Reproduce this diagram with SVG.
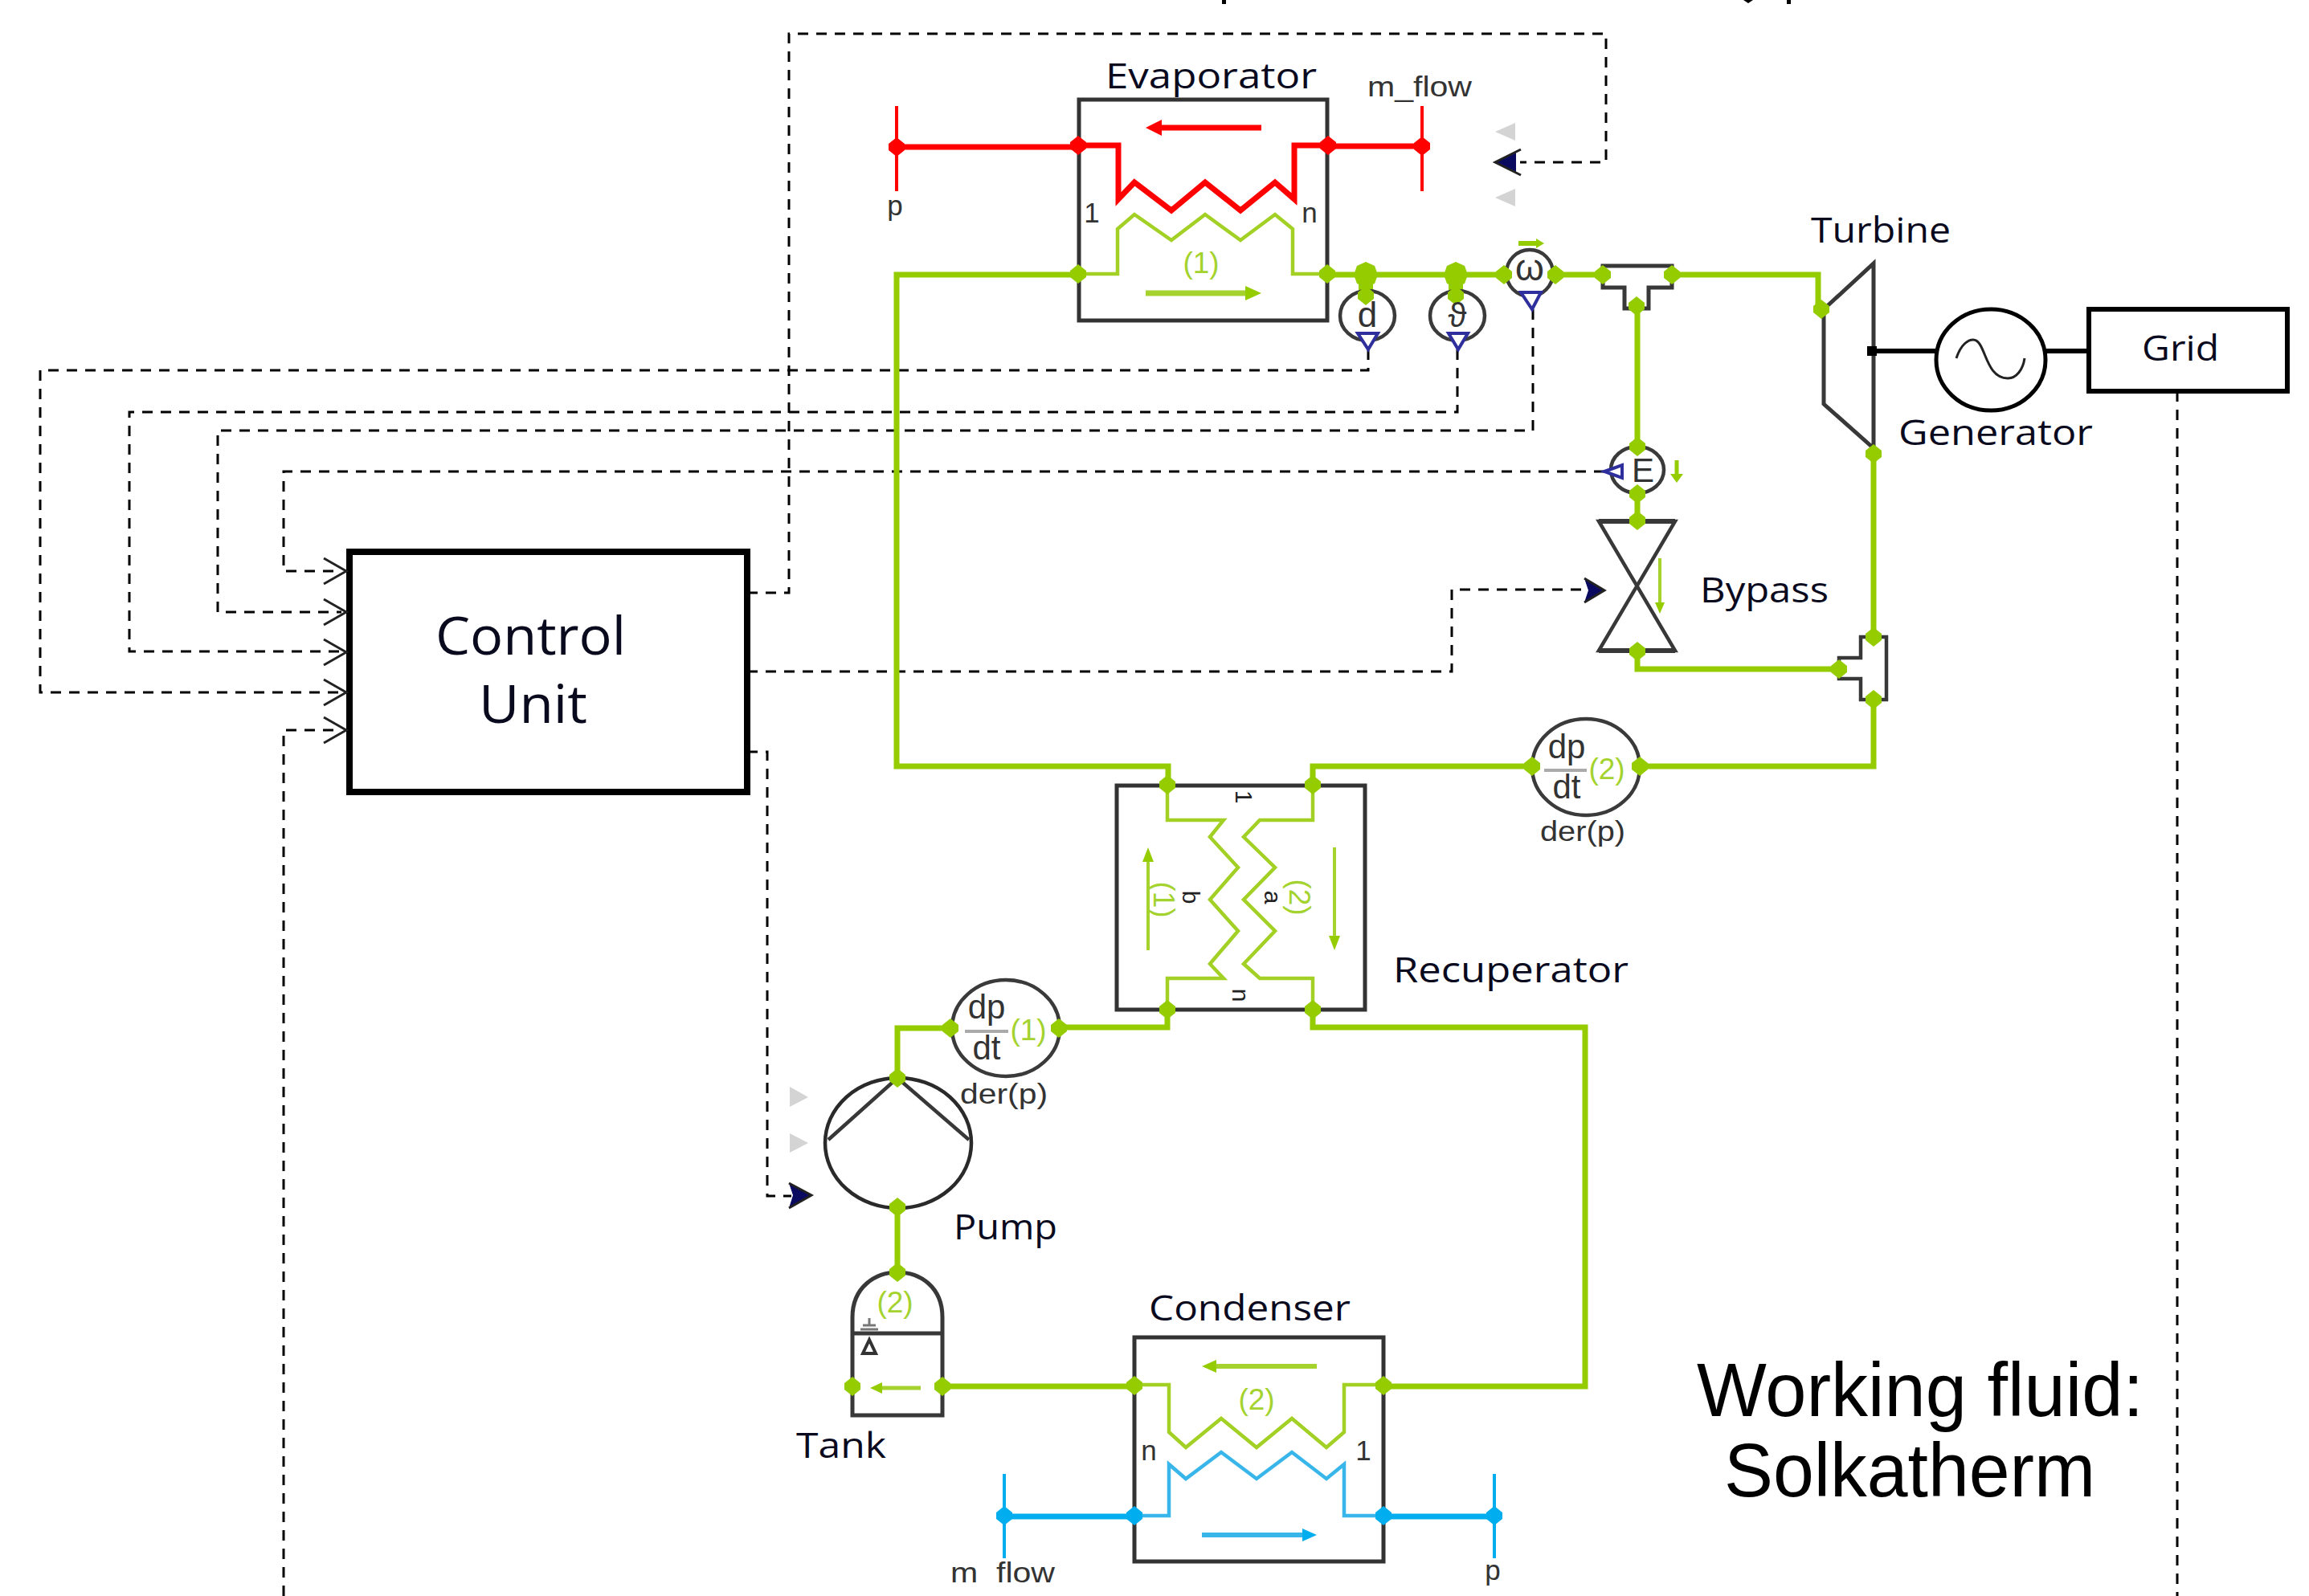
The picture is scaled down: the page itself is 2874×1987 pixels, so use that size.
<svg xmlns="http://www.w3.org/2000/svg" xmlns:xlink="http://www.w3.org/1999/xlink" width="2874" height="1987" viewBox="0 0 2874 1987">
<style>
text{font-family:"Liberation Sans",Arial,sans-serif;fill:#2a2a2a}
.lab{font-family:"Open Sans","Liberation Sans",sans-serif;font-size:43px;fill:#0a0a1e}
.sm{font-size:35px;fill:#333}
.big{font-size:95px;fill:#000}
.gt{font-size:37px;fill:#a4d22e}
.box{fill:#fff;stroke:#333;stroke-width:5}
.sh{fill:none;stroke:#383838;stroke-width:5}
.sens{fill:#fff;stroke:#3a3a3a;stroke-width:4.5}
.tri{fill:#fff;stroke:#2e2e9c;stroke-width:4}
.dash{fill:none;stroke:#000;stroke-width:3;stroke-dasharray:13 10}
.open{fill:none;stroke:#222;stroke-width:3}
.gp{fill:none;stroke:#94cc00;stroke-width:7}
.gi{fill:none;stroke:#a2d024;stroke-width:4.5}
.gthin{fill:none;stroke:#a6d22e;stroke-width:4}
.rp{fill:none;stroke:#ff0000;stroke-width:7}
.bp{fill:none;stroke:#00adee;stroke-width:7}
.bi{fill:none;stroke:#38b6ea;stroke-width:4.5}
.pg{fill:#94cc00}.pr{fill:#ff0000}.pb{fill:#00adee}
.blk{fill:none;stroke:#000}
</style>
<defs>
<polygon id="port" points="0,-12 10,-4 10,4 0,12 -10,4 -10,-4"/>
<polygon id="bigport" points="0,-16 11,-11 15,0 11,11 0,16 -11,11 -15,0 -11,-11"/>
</defs>
<rect width="2874" height="1987" fill="#fff"/>

<g id="title-fragments" fill="#000">
<rect x="1521" y="0" width="5" height="5"/><path d="M2170,0h12l-6,4z"/><rect x="2224" y="0" width="5" height="5"/>
</g>

<g id="control-unit">
<rect x="435" y="687" width="495" height="299" fill="#fff" stroke="#000" stroke-width="8"/>
<text class="lab" x="542" y="815" style="font-size:66px" textLength="237" lengthAdjust="spacingAndGlyphs">Control</text>
<text class="lab" x="596" y="900" style="font-size:66px" textLength="135" lengthAdjust="spacingAndGlyphs">Unit</text>
</g>

<g id="connectors">
<path class="dash" d="M1997,587H353V711H425"/>
<path class="dash" d="M1908,385V536H271V762H425"/>
<path class="dash" d="M1814,435V513H161V811H425"/>
<path class="dash" d="M1703,435V461H50V862H425"/>
<path class="dash" d="M353,1987V909H425"/>
<path class="dash" d="M2710,487V1987"/>
<path class="dash" d="M930,738H982V42H1999V202H1892"/>
<path class="dash" d="M930,836H1807V734H1970"/>
<path class="dash" d="M930,936H955V1489H985"/>
<path class="gp" d="M1343,342H1116V954H1454V977"/>
<path class="gp" d="M1652,342H1995M2081,342H2263V385"/>
<path class="gp" d="M2038,380V556M2038,615V649M2038,811V833H2289"/>
<path class="gp" d="M2332,565V793M2332,871V954H2041M1907,954H1634V977"/>
<path class="gp" d="M1453,1257V1279H1318M1183,1280H1117V1342"/>
<path class="gp" d="M1634,1257V1279H1973V1726H1722"/>
<path class="gp" d="M1117,1503V1584"/>
<path class="gp" d="M1173,1726H1412"/>
<path class="rp" d="M1116,183H1343M1652,182H1770"/>
<path class="bp" d="M1250,1888H1412M1722,1888H1860"/>
</g>

<g id="evaporator">
<rect class="box" x="1343" y="124" width="309" height="275"/>
<path class="rp" d="M1343,181H1392V248L1412,227L1458,262L1500,227L1544,262L1587,227L1611,248V181H1652"/>
<path class="gi" d="M1343,341H1391V285L1412,267L1458,299L1500,267L1544,299L1587,267L1609,285V341H1652"/>
<path d="M1570,159H1440" fill="none" stroke="#ff0000" stroke-width="7"/><polygon points="1426,159 1446,149 1446,169" class="pr"/>
<path d="M1426,365H1555" class="gthin" style="stroke-width:7"/><polygon points="1570,365 1550,356 1550,374" class="pg"/>
<text class="gt" x="1495" y="340" text-anchor="middle">(1)</text>
<text class="sm" x="1359" y="277" text-anchor="middle">1</text>
<text class="sm" x="1630" y="277" text-anchor="middle">n</text>
<text class="lab" x="1376" y="110" textLength="263" lengthAdjust="spacingAndGlyphs">Evaporator</text>
<g class="pr"><use href="#port" x="1342" y="181"/><use href="#port" x="1653" y="181"/></g>
<g class="pg"><use href="#port" x="1342" y="341"/><use href="#port" x="1652" y="341"/></g>
</g>

<g id="hot-source-p">
<path class="pr" d="M1114,132h4v106h-4z"/><use href="#port" x="1116" y="183" class="pr"/>
<text class="sm" x="1114" y="268" text-anchor="middle">p</text>
</g>
<g id="hot-source-m-flow">
<path class="pr" d="M1768,132h4v106h-4z"/><use href="#port" x="1770" y="182" class="pr"/>
<text class="sm" x="1702" y="120" textLength="130" lengthAdjust="spacingAndGlyphs">m_flow</text>
</g>
<g id="mflow-inputs">
<polygon points="1861,164 1886,153 1886,175" fill="#d4d4d4"/>
<polygon points="1861,246 1886,235 1886,257" fill="#d4d4d4"/>
<polygon points="1861,202 1887,190 1887,214" fill="#0a0a60"/>
<path class="open" d="M1893,186L1861,202L1893,218"/>
</g>

<g id="sensor-d">
<path class="gp" d="M1700,342V367" style="stroke-width:18"/>
<ellipse class="sens" cx="1702" cy="393" rx="34" ry="31"/>
<polygon class="tri" points="1690,415 1715,415 1703,435"/>
<use href="#bigport" x="1700" y="342" class="pg"/><use href="#port" x="1700" y="368" class="pg"/>
<text x="1702" y="407" text-anchor="middle" style="font-size:44px;fill:#333">d</text>
</g>
<g id="sensor-theta">
<path class="gp" d="M1812,342V367" style="stroke-width:18"/>
<ellipse class="sens" cx="1814" cy="393" rx="34" ry="31"/>
<polygon class="tri" points="1803,415 1827,415 1815,435"/>
<use href="#bigport" x="1812" y="342" class="pg"/><use href="#port" x="1812" y="368" class="pg"/>
<text x="1814" y="407" text-anchor="middle" style="font-size:42px;fill:#333">ϑ</text>
</g>
<g id="sensor-w">
<ellipse class="sens" cx="1904" cy="340" rx="29" ry="29"/>
<polygon class="tri" points="1893,364 1918,364 1907,385"/>
<use href="#port" x="1872" y="342" class="pg"/><use href="#port" x="1936" y="342" class="pg"/>
<text x="1904" y="349" text-anchor="middle" style="font-size:46px;fill:#333">ω</text>
<path d="M1890,303H1914" style="stroke:#94cc00;stroke-width:6;fill:none"/><polygon points="1922,303 1912,297 1912,309" class="pg"/>
</g>

<g id="splitter-top">
<polygon class="sh" points="1995,331 2081,331 2081,358 2052,358 2052,384 2022,384 2022,358 1995,358" style="fill:#fff"/>
<use href="#port" x="1995" y="342" class="pg"/><use href="#port" x="2081" y="342" class="pg"/><use href="#port" x="2037" y="381" class="pg"/>
</g>

<g id="turbine">
<polygon class="sh" points="2270,385 2332,328 2332,558 2270,503" style="fill:#fff"/>
<use href="#port" x="2267" y="385" class="pg"/><use href="#port" x="2332" y="565" class="pg"/>
<rect x="2324" y="431" width="12" height="12" fill="#000"/>
<text class="lab" x="2254" y="302" textLength="174" lengthAdjust="spacingAndGlyphs">Turbine</text>
</g>
<path id="shaft-line" class="blk" stroke-width="6" d="M2330,437H2409"/>
<path id="grid-line" class="blk" stroke-width="6" d="M2546,437H2600"/>

<g id="generator">
<ellipse cx="2478" cy="448" rx="68" ry="63" fill="#fff" stroke="#000" stroke-width="5"/>
<path d="M2435,446C2441,428 2450,423 2456,423C2472,423 2470,471 2499,471C2510,471 2518,460 2520,446" fill="none" stroke="#222" stroke-width="3"/>
<text class="lab" x="2363" y="554" textLength="242" lengthAdjust="spacingAndGlyphs">Generator</text>
</g>
<g id="grid">
<rect x="2600" y="385" width="247" height="102" fill="#fff" stroke="#000" stroke-width="6"/>
<text class="lab" x="2666" y="449" textLength="96" lengthAdjust="spacingAndGlyphs">Grid</text>
</g>

<g id="sensor-E">
<ellipse class="sens" cx="2038" cy="585" rx="33" ry="29"/>
<polygon class="tri" points="1997,587 2019,579 2019,595"/>
<use href="#port" x="2038" y="556" class="pg"/><use href="#port" x="2038" y="615" class="pg"/>
<text x="2045" y="600" text-anchor="middle" style="font-size:42px;fill:#333">E</text>
<path d="M2087,573V592" style="stroke:#94cc00;stroke-width:5;fill:none"/><polygon points="2087,601 2079,590 2095,590" class="pg"/>
</g>

<g id="bypass">
<polygon class="sh" points="1990,649 2085,649 1990,810 2085,810" style="stroke-width:4.5"/>
<path d="M1990,649H2085M1990,810H2085" class="sh" style="stroke-width:6"/>
<use href="#port" x="2038" y="648" class="pg"/><use href="#port" x="2038" y="811" class="pg"/>
<path d="M2066,695V750" class="gthin"/><polygon points="2066,764 2060,750 2072,750" class="pg"/>
<polygon points="1997,735 1972,720 1977,735 1972,750" fill="#0a0a60"/>
<text class="lab" x="2116" y="750" textLength="160" lengthAdjust="spacingAndGlyphs">Bypass</text>
</g>

<g id="junction-bottom">
<polygon class="sh" points="2316,793 2348,793 2348,871 2316,871 2316,845 2289,845 2289,819 2316,819" style="stroke-width:4.5;fill:#fff"/>
<use href="#port" x="2332" y="793" class="pg"/><use href="#port" x="2332" y="871" class="pg"/><use href="#port" x="2289" y="833" class="pg"/>
</g>

<g id="dpdt-2">
<ellipse class="sens" cx="1974" cy="955" rx="67" ry="60"/>
<text x="1950" y="944" text-anchor="middle" style="font-size:42px;fill:#333">dp</text>
<path d="M1922,959H1975" stroke="#aaa" stroke-width="4"/>
<text x="1950" y="994" text-anchor="middle" style="font-size:42px;fill:#333">dt</text>
<text class="gt" x="2000" y="970" text-anchor="middle">(2)</text>
<use href="#port" x="1907" y="954" class="pg"/><use href="#port" x="2041" y="954" class="pg"/>
<text class="sm" x="1917" y="1047" textLength="106" lengthAdjust="spacingAndGlyphs">der(p)</text>
</g>

<g id="recuperator">
<rect class="box" x="1390" y="978" width="309" height="279"/>
<path class="gi" d="M1453,977V1021H1523L1506,1042L1541,1080L1506,1120L1541,1159L1506,1200L1523,1218H1453V1257"/>
<path class="gi" d="M1634,977V1021H1568L1548,1042L1587,1080L1548,1120L1587,1159L1548,1200L1568,1218H1634V1257"/>
<path class="gthin" d="M1429,1183V1068"/><polygon points="1429,1055 1422,1073 1436,1073" class="pg"/>
<path class="gthin" d="M1661,1055V1170"/><polygon points="1661,1183 1654,1165 1668,1165" class="pg"/>
<text class="gt" transform="translate(1436,1120) rotate(90)" text-anchor="middle">(1)</text>
<text class="gt" transform="translate(1605,1117) rotate(90)" text-anchor="middle">(2)</text>
<text transform="translate(1472,1117) rotate(90)" text-anchor="middle" style="font-size:30px;fill:#222">b</text>
<text transform="translate(1574,1117) rotate(90)" text-anchor="middle" style="font-size:30px;fill:#222">a</text>
<text transform="translate(1538,992) rotate(90)" text-anchor="middle" style="font-size:30px;fill:#222">1</text>
<text transform="translate(1534,1239) rotate(90)" text-anchor="middle" style="font-size:30px;fill:#222">n</text>
<g class="pg"><use href="#port" x="1453" y="977"/><use href="#port" x="1634" y="977"/><use href="#port" x="1453" y="1257"/><use href="#port" x="1634" y="1257"/></g>
<text class="lab" x="1734" y="1223" textLength="293" lengthAdjust="spacingAndGlyphs">Recuperator</text>
</g>

<g id="dpdt-1">
<ellipse class="sens" cx="1252" cy="1280" rx="67" ry="60"/>
<text x="1228" y="1268" text-anchor="middle" style="font-size:42px;fill:#333">dp</text>
<path d="M1201,1284H1255" stroke="#aaa" stroke-width="4"/>
<text x="1228" y="1319" text-anchor="middle" style="font-size:42px;fill:#333">dt</text>
<text class="gt" x="1280" y="1295" text-anchor="middle">(1)</text>
<use href="#port" x="1183" y="1280" class="pg"/><use href="#port" x="1318" y="1280" class="pg"/>
<text class="sm" x="1195" y="1374" textLength="109" lengthAdjust="spacingAndGlyphs">der(p)</text>
</g>

<g id="pump">
<ellipse cx="1118" cy="1423" rx="91" ry="81" fill="#fff" stroke="#2a2a2a" stroke-width="4.5"/>
<path d="M1031,1419L1117,1342L1206,1419" class="sh" style="stroke-width:4.5"/>
<use href="#port" x="1117" y="1342" class="pg"/><use href="#port" x="1117" y="1503" class="pg"/>
<polygon points="983,1353 1006,1366 983,1378" fill="#d4d4d4"/>
<polygon points="983,1411 1006,1423 983,1435" fill="#d4d4d4"/>
<polygon points="1010,1488 982,1473 987,1488 982,1504" fill="#0a0a60"/>
<text class="lab" x="1187" y="1543" textLength="129" lengthAdjust="spacingAndGlyphs">Pump</text>
</g>

<g id="tank">
<path class="sh" d="M1061,1762V1640C1061,1602 1090,1584 1117,1584C1145,1584 1173,1602 1173,1640V1762Z" style="fill:#fff"/>
<path class="sh" d="M1061,1660H1173"/>
<path d="M1082,1641V1650M1074,1650H1090M1071,1655H1093" stroke="#777" stroke-width="3" fill="none"/>
<polygon points="1082,1668 1074,1685 1090,1685" fill="none" stroke="#333" stroke-width="4"/>
<path class="gthin" d="M1146,1728H1095" style="stroke-width:5"/><polygon points="1083,1728 1098,1721 1098,1735" class="pg"/>
<text class="gt" x="1114" y="1634" text-anchor="middle">(2)</text>
<use href="#port" x="1117" y="1584" class="pg"/><use href="#port" x="1061" y="1726" class="pg"/><use href="#port" x="1173" y="1726" class="pg"/>
<text class="lab" x="991" y="1815" textLength="112" lengthAdjust="spacingAndGlyphs">Tank</text>
</g>

<g id="condenser">
<rect class="box" x="1412" y="1665" width="310" height="279"/>
<path class="gi" d="M1412,1724H1455V1783L1476,1802L1520,1766L1564,1802L1608,1766L1651,1802L1673,1783V1724H1722"/>
<path class="bi" d="M1412,1887H1455V1823L1476,1841L1520,1808L1564,1841L1608,1808L1651,1841L1673,1823V1887H1722"/>
<path class="gthin" d="M1639,1701H1510" style="stroke-width:6"/><polygon points="1496,1701 1514,1693 1514,1709" class="pg"/>
<path class="bi" d="M1496,1911H1625" style="stroke-width:6"/><polygon points="1639,1911 1621,1903 1621,1919" class="pb"/>
<text class="gt" x="1564" y="1755" text-anchor="middle">(2)</text>
<text class="sm" x="1430" y="1818" text-anchor="middle">n</text>
<text class="sm" x="1697" y="1818" text-anchor="middle">1</text>
<g class="pg"><use href="#port" x="1412" y="1725"/><use href="#port" x="1722" y="1725"/></g>
<g class="pb"><use href="#port" x="1412" y="1887"/><use href="#port" x="1722" y="1887"/></g>
<text class="lab" x="1430" y="1644" textLength="251" lengthAdjust="spacingAndGlyphs">Condenser</text>
</g>

<g id="cold-source-m-flow">
<path class="pb" d="M1248,1835h4v105h-4z"/><use href="#port" x="1250" y="1887" class="pb"/>
<text class="sm" x="1183" y="1970" textLength="130" lengthAdjust="spacingAndGlyphs" xml:space="preserve">m  flow</text>
</g>
<g id="cold-source-p">
<path class="pb" d="M1858,1835h4v105h-4z"/><use href="#port" x="1860" y="1887" class="pb"/>
<text class="sm" x="1858" y="1967" text-anchor="middle">p</text>
</g>

<g id="input-arrowheads">
<path class="open" d="M403,695L431,711L403,727M403,746L431,762L403,778M403,796L431,812L403,828M403,846L431,862L403,878M403,893L431,909L403,925"/>
<path class="open" d="M1972,720L1997,735L1972,750M982,1473L1010,1488L982,1504"/>
</g>

<g id="working-fluid-note">
<text class="big" x="2112" y="1763" textLength="556" lengthAdjust="spacingAndGlyphs">Working fluid:</text>
<text class="big" x="2146" y="1863" textLength="462" lengthAdjust="spacingAndGlyphs">Solkatherm</text>
</g>
</svg>
